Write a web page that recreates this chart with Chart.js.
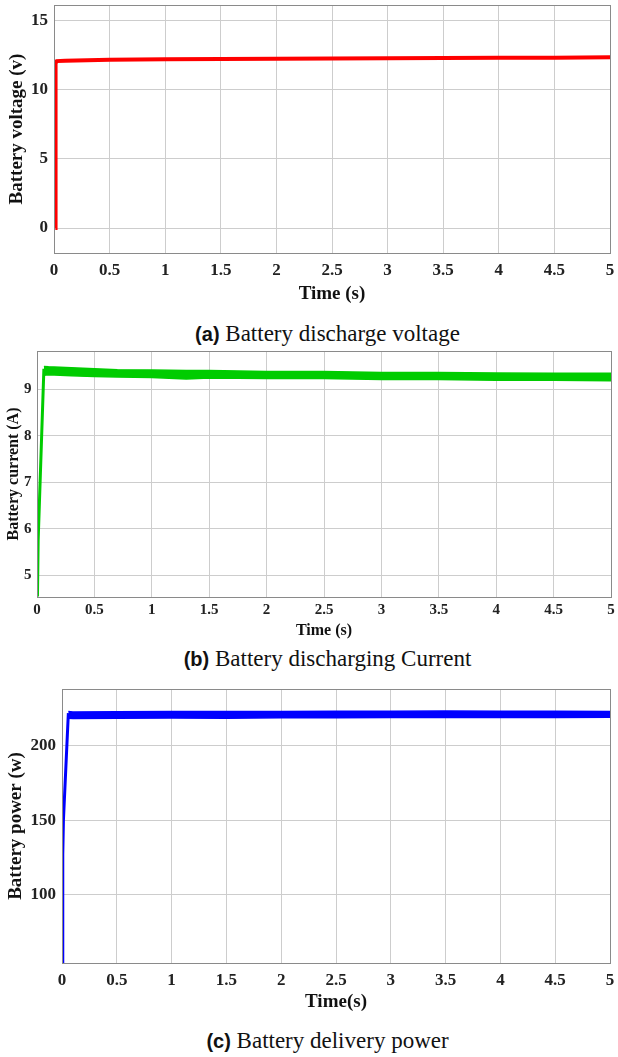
<!DOCTYPE html>
<html>
<head>
<meta charset="utf-8">
<script src="https://cdn.jsdelivr.net/npm/chart.js@4.4.0/dist/chart.umd.min.js"></script>
<style>
  body { margin: 0; background: #fff; width: 618px; height: 1057px; position: relative; overflow: hidden; }
  canvas { position: absolute; left: 0; }
  .cap { position: absolute; left: 0; width: 655px; text-align: center; font-family: "Liberation Serif", serif;
         font-size: 23px; line-height: 23px; color: #111; white-space: nowrap; }
  .cap b { font-family: "Liberation Sans", Arial, sans-serif; font-size: 20px; }
</style>
</head>
<body>
<canvas id="chartA" width="618" height="305" style="top:0"></canvas>
<div class="cap" style="top:322px"><b>(a)</b> Battery discharge voltage</div>
<canvas id="chartB" width="618" height="300" style="top:340px"></canvas>
<div class="cap" style="top:647px"><b>(b)</b> Battery discharging Current</div>
<canvas id="chartC" width="618" height="343" style="top:670px"></canvas>
<div class="cap" style="top:1029px"><b>(c)</b> Battery delivery power</div>
<script>
const xTicks = [0, 0.5, 1, 1.5, 2, 2.5, 3, 3.5, 4, 4.5, 5];

// (a) battery voltage
const timeA = [0.012, 0.014, 0.025, 0.1, 0.3, 0.5, 1, 1.5, 2, 2.5, 3, 3.5, 4, 4.5, 5];
const voltageA = [0, 11.9, 12.05, 12.08, 12.12, 12.15, 12.18, 12.2, 12.22, 12.24, 12.26, 12.27, 12.29, 12.3, 12.32];
const yTicksA = [0, 5, 10, 15];

// (b) battery current: start-up ramp, then the ripple band (upper / lower edge)
const timeRiseB = [0.004, 0.01, 0.06];
const currentRiseB = [4.55, 5.75, 9.44];
const timeBandB = [0.06, 0.1, 0.3, 0.5, 0.7, 1, 1.3, 1.5, 2, 2.5, 3, 3.5, 4, 4.5, 5];
const currentUpperB = [9.49, 9.48, 9.46, 9.44, 9.42, 9.41, 9.4, 9.4, 9.38, 9.38, 9.36, 9.36, 9.35, 9.34, 9.34];
const currentLowerB = [9.3, 9.31, 9.29, 9.27, 9.26, 9.25, 9.22, 9.24, 9.23, 9.23, 9.21, 9.21, 9.19, 9.19, 9.18];
const yTicksB = [5, 6, 7, 8, 9];

// (c) battery power
const timeRiseC = [0.006, 0.007, 0.013, 0.058];
const powerRiseC = [54, 127, 150, 222];
const timeBandC = [0.058, 0.1, 0.5, 1, 1.5, 2, 2.5, 3, 3.5, 4, 4.5, 5];
const powerUpperC = [223, 222.8, 222.9, 223, 223.1, 223, 223.2, 223.3, 223.4, 223.3, 223.2, 223.1];
const powerLowerC = [218.5, 218.4, 218.6, 218.7, 218.5, 218.8, 218.9, 219, 219, 219.1, 219, 219.2];
const yTicksC = [100, 150, 200];

const pts = (xs, ys) => xs.map((x, i) => ({ x, y: ys[i] }));

// matlab style box round the plot area
const frame = {
  id: 'frame',
  afterDraw(chart) {
    const { ctx, chartArea: a } = chart;
    ctx.save();
    ctx.strokeStyle = '#8a8a8a';
    ctx.lineWidth = 1;
    ctx.strokeRect(Math.round(a.left) + 0.5, Math.round(a.top) + 0.5,
      Math.round(a.right - a.left), Math.round(a.bottom - a.top));
    ctx.restore();
  }
};

function serif(size) {
  return { family: 'Liberation Serif', size, weight: 'bold' };
}

function makeChart(id, datasets, o) {
  return new Chart(document.getElementById(id), {
    type: 'line',
    data: { datasets },
    options: {
      responsive: false,
      animation: false,
      layout: { padding: { top: o.top, right: o.right, left: 0, bottom: 0 } },
      plugins: { legend: { display: false }, tooltip: { enabled: false } },
      elements: { point: { radius: 0 }, line: { tension: 0 } },
      scales: {
        x: {
          type: 'linear', min: 0, max: 5,
          afterBuildTicks: s => { s.ticks = xTicks.map(v => ({ value: v })); },
          afterFit: s => { s.height = o.xHeight; s.paddingLeft = 0; s.paddingRight = 0; },
          ticks: { font: serif(o.tickSize), color: '#222', padding: o.xPad, maxRotation: 0, callback: v => String(v) },
          grid: { color: '#cdcdcd', drawTicks: false },
          border: { color: '#8a8a8a' },
          title: { display: true, text: o.xTitle, font: serif(o.xTitleSize), color: '#111', padding: { top: 0, bottom: 0 } }
        },
        y: {
          min: o.yMin, max: o.yMax,
          afterBuildTicks: s => { s.ticks = o.yTicks.map(v => ({ value: v })); },
          afterFit: s => { s.width = o.yWidth; s.paddingTop = 0; s.paddingBottom = 0; },
          ticks: { font: serif(o.tickSize), color: '#222', padding: o.yPad, callback: v => String(v) },
          grid: { color: '#cdcdcd', drawTicks: false },
          border: { color: '#8a8a8a' },
          title: { display: true, text: o.yTitle, font: serif(o.yTitleSize), color: '#111', padding: { top: o.yTitlePad, bottom: 0 } }
        }
      }
    },
    plugins: [frame]
  });
}

makeChart('chartA', [
  { data: pts(timeA, voltageA), borderColor: '#ff0000', borderWidth: 4 }
], {
  top: 5, right: 8, xHeight: 52, yWidth: 54, tickSize: 17, xPad: 7, yPad: 6,
  xTitle: 'Time (s)', xTitleSize: 19, yTitle: 'Battery voltage (v)', yTitleSize: 19, yTitlePad: 6,
  yMin: -1.8, yMax: 16.1, yTicks: yTicksA
});

makeChart('chartB', [
  { data: pts(timeRiseB, currentRiseB), borderColor: '#00cc00', borderWidth: 3 },
  { data: pts(timeBandB, currentUpperB), borderColor: '#00cc00', borderWidth: 1.5, fill: '+1', backgroundColor: '#00cc00' },
  { data: pts(timeBandB, currentLowerB), borderColor: '#00cc00', borderWidth: 1.5 }
], {
  top: 11, right: 7, xHeight: 43, yWidth: 37, tickSize: 15, xPad: 4, yPad: 5.5,
  xTitle: 'Time (s)', xTitleSize: 16, yTitle: 'Battery current (A)', yTitleSize: 16, yTitlePad: 4.4,
  yMin: 4.54, yMax: 9.82, yTicks: yTicksB
});

makeChart('chartC', [
  { data: pts(timeRiseC, powerRiseC), borderColor: '#0000ff', borderWidth: 3 },
  { data: pts(timeBandC, powerUpperC), borderColor: '#0000ff', borderWidth: 1.5, fill: '+1', backgroundColor: '#0000ff' },
  { data: pts(timeBandC, powerLowerC), borderColor: '#0000ff', borderWidth: 1.5 }
], {
  top: 19, right: 8, xHeight: 50, yWidth: 62, tickSize: 17, xPad: 7, yPad: 6,
  xTitle: 'Time(s)', xTitleSize: 19, yTitle: 'Battery power (w)', yTitleSize: 19, yTitlePad: 5,
  yMin: 53.9, yMax: 238.2, yTicks: yTicksC
});
</script>
</body>
</html>
